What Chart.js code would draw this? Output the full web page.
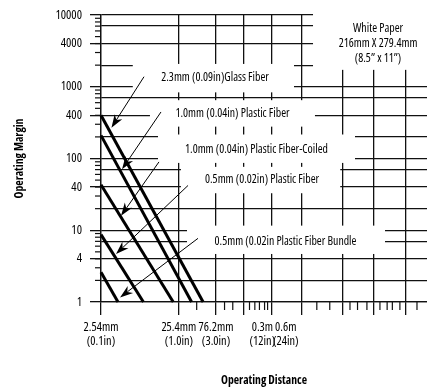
<!DOCTYPE html>
<html>
<head>
<meta charset="utf-8">
<script src="https://cdn.jsdelivr.net/npm/chart.js@4.4.1/dist/chart.umd.min.js"></script>
<style>
  html, body { margin: 0; padding: 0; background: #fff; }
  canvas { display: block; }
</style>
</head>
<body>
<canvas id="chart" width="427" height="391"></canvas>
<script>
// Fiber types, one straight log-log line each
const fiberTypes = [
  '2.3mm (0.09in)Glass Fiber',
  '1.0mm (0.04in) Plastic Fiber',
  '1.0mm (0.04in) Plastic Fiber-Coiled',
  '0.5mm (0.02in) Plastic Fiber',
  '0.5mm (0.02in Plastic Fiber Bundle'
];
// Operating margin at the nearest distance (2.54 mm)
const startDistance = 2.54;
const marginAtStart = [400, 210, 43, 8.7, 2.6];
// Distance (mm) at which the operating margin drops to 1
const distanceAtMarginOne = [52, 37, 21.5, 8.9, 4.2];

// Margin axis
const marginGrid = [1, 2, 4, 7, 10, 20, 40, 70, 100, 200, 400, 700, 1000, 2000, 4000, 7000, 10000];
const marginLabels = [1, 4, 10, 40, 100, 400, 1000, 4000, 10000];

// Distance axis (mm)
const distanceLabelValues = [2.54, 25.4, 76.2, 300, 600];
const distanceLabels = [
  ['2.54mm', '(0.1in)'],
  ['25.4mm', '(1.0in)'],
  ['76.2mm', '(3.0in)'],
  ['0.3m', '(12in)'],
  ['0.6m', '(24in)']
];
const distanceGrid = [25.4, 76.2, 173, 395, 960, 3230, 8100, 20800];
const distanceMinor = [43, 98, 125, 205, 240, 275, 320, 350, 1500, 2200, 4000, 5000, 6600, 9700, 12000, 14000, 17500, 29000];

// Call-out labels: text centre, white backing box [xMin, xMax, yMin, yMax], arrow tail and tip (data units)
const calloutCentres = [[74, 1340], [124, 418], [252, 135], [297, 51], [594, 7.0]];
const calloutBoxes = [
  [6.5, 764, 835, 2080],
  [10.8, 1420, 278, 650],
  [13.7, 4640, 86.8, 216],
  [27, 3000, 32.8, 76.5],
  [32.3, 11270, 4.67, 11.6]
];
const arrowTails = [[9.06, 1380], [14.97, 445], [14.1, 89.6], [33.3, 42.1], [44.7, 7.71]];
const arrowTips = [[3.46, 269], [4.73, 70.8], [4.59, 15.9], [3.96, 4.67], [4.46, 1.16]];

// Target sheet note
const paperNote = ['White Paper', '216mm X 279.4mm', '(8.5\u201d x 11\u201d)'];
const paperNoteCentre = [9162, 4018];
const paperNoteBox = [1341, 39000, 1720, 12000];

const INK = '#111';
const NONE = 'rgba(0,0,0,0)';

// Pick the narrowest installed sans face for the condensed lettering
const probe = document.createElement('canvas').getContext('2d');
function fontString(f, size, bold) {
  return [bold ? 'bold' : '', f.stretch, size + 'px', f.family].filter(Boolean).join(' ');
}
function measure(f, size, bold, text) {
  probe.font = '12px monospace';
  probe.font = fontString(f, size, bold) + ', monospace';
  return probe.measureText(text).width;
}
const faceCandidates = [
  { stretch: '', family: '"Liberation Sans Narrow"' },
  { stretch: '', family: '"DejaVu Sans Condensed"' },
  { stretch: '', family: '"Noto Sans Condensed"' },
  { stretch: 'condensed', family: '"Noto Sans"' },
  { stretch: 'condensed', family: '"DejaVu Sans"' },
  { stretch: 'condensed', family: '"Open Sans"' },
  { stretch: 'condensed', family: '"Liberation Sans"' },
  { stretch: '', family: '"Liberation Sans"' }
];
const probeText = '1.0mm (0.04in) Plastic Fiber-Coiled';
probe.font = '12px monospace';
const monoWidth = probe.measureText(probeText).width;
let face = faceCandidates[faceCandidates.length - 1], faceWidth = Infinity;
faceCandidates.forEach(f => {
  const w = measure(f, 12, false, probeText);
  if (Math.abs(w - monoWidth) > 0.5 && w < faceWidth - 0.5) { face = f; faceWidth = w; }
});
const FAMILY = face.family + ', "Liberation Sans", sans-serif';
const fitSize = (text, width, bold) =>
  Math.max(8.5, Math.min(12.5, 12 * width / measure(face, 12, bold, text)));
const yTickSize = fitSize('10000', 29, false);
const xTickSize = fitSize('25.4mm', 35, false);
const titleSize = fitSize('Operating Distance', 86, true);
const calloutSize = 12;
const squeeze = Math.min(1, 143 / measure(face, calloutSize, false, probeText));
const fontOpt = (size, bold) => ({
  family: FAMILY, size,
  weight: [bold ? 'bold' : '', face.stretch].filter(Boolean).join(' ') || undefined,
  lineHeight: '14px'
});

const datasets = fiberTypes.map((name, i) => ({
  label: name,
  data: [
    { x: startDistance, y: marginAtStart[i] },
    { x: distanceAtMarginOne[i], y: 1 }
  ],
  borderColor: '#000',
  borderWidth: 3,
  pointRadius: 0,
  tension: 0,
  fill: false,
  clip: 4
}));

const xHasLine = v => v === startDistance || distanceGrid.includes(v);

function drawArrow(ctx, x0, y0, x1, y1) {
  const ang = Math.atan2(y1 - y0, x1 - x0);
  const len = 13, half = 4.5;
  const cos = Math.cos(ang), sin = Math.sin(ang);
  ctx.beginPath();
  ctx.moveTo(x0, y0);
  ctx.lineTo(x1 - cos * len * 0.7, y1 - sin * len * 0.7);
  ctx.lineWidth = 1;
  ctx.strokeStyle = '#000';
  ctx.stroke();
  const bx = x1 - cos * len, by = y1 - sin * len;
  const nx = -sin, ny = cos;
  ctx.beginPath();
  ctx.moveTo(x1, y1);
  ctx.lineTo(bx + nx * half, by + ny * half);
  ctx.lineTo(x1 - cos * len * 0.7, y1 - sin * len * 0.7);
  ctx.lineTo(bx - nx * half, by - ny * half);
  ctx.closePath();
  ctx.fillStyle = '#000';
  ctx.fill();
}

function squeezedText(ctx, text, x, y) {
  ctx.save();
  ctx.translate(x, y);
  ctx.scale(squeeze, 1);
  ctx.fillText(text, 0, 0);
  ctx.restore();
}

const calloutPlugin = {
  id: 'callouts',
  beforeDatasetsDraw(chart) {
    const { ctx, scales: { x, y } } = chart;
    ctx.save();
    // short minor ticks on both axes
    ctx.strokeStyle = INK;
    ctx.lineWidth = 1.2;
    const left = x.getPixelForValue(x.min);
    for (let k = 0; k < 4; k++) {
      for (let d = 2; d <= 9; d++) {
        const py = y.getPixelForValue(d * Math.pow(10, k));
        ctx.beginPath();
        ctx.moveTo(left - 6, py);
        ctx.lineTo(left, py);
        ctx.stroke();
      }
    }
    const bottom = y.getPixelForValue(y.min);
    distanceMinor.forEach(v => {
      const px = x.getPixelForValue(v);
      ctx.beginPath();
      ctx.moveTo(px, bottom);
      ctx.lineTo(px, bottom + 8);
      ctx.stroke();
    });
    // white backing boxes for the call-outs
    ctx.fillStyle = '#fff';
    [...calloutBoxes, paperNoteBox].forEach(b => {
      const x0 = x.getPixelForValue(b[0]), x1 = x.getPixelForValue(b[1]);
      const y0 = y.getPixelForValue(b[3]), y1 = y.getPixelForValue(b[2]);
      ctx.fillRect(x0, y0, x1 - x0, y1 - y0);
    });
    ctx.restore();
  },
  afterDatasetsDraw(chart) {
    const { ctx, scales: { x, y } } = chart;
    ctx.save();
    ctx.font = fontString(face, calloutSize, false) + ', "Liberation Sans", sans-serif';
    ctx.textAlign = 'center';
    ctx.textBaseline = 'middle';
    fiberTypes.forEach((name, i) => {
      const c = calloutCentres[i];
      ctx.fillStyle = '#000';
      squeezedText(ctx, name, x.getPixelForValue(c[0]), y.getPixelForValue(c[1]));
      const t = arrowTails[i], p = arrowTips[i];
      drawArrow(ctx,
        x.getPixelForValue(t[0]), y.getPixelForValue(t[1]),
        x.getPixelForValue(p[0]), y.getPixelForValue(p[1]));
    });
    ctx.fillStyle = '#000';
    const cx = x.getPixelForValue(paperNoteCentre[0]);
    const cy = y.getPixelForValue(paperNoteCentre[1]);
    paperNote.forEach((line, i) => squeezedText(ctx, line, cx, cy + (i - 1) * 15));
    ctx.restore();
  }
};

new Chart(document.getElementById('chart'), {
  type: 'line',
  data: { datasets },
  options: {
    responsive: false,
    animation: false,
    devicePixelRatio: 1,
    layout: { padding: { top: 9, right: 0, bottom: 0, left: 0 } },
    plugins: { legend: { display: false }, tooltip: { enabled: false } },
    scales: {
      x: {
        type: 'logarithmic',
        min: 2.54,
        max: 39000,
        afterBuildTicks: s => {
          const vals = [...new Set([...distanceLabelValues, ...distanceGrid])].sort((a, b) => a - b);
          s.ticks = vals.map(v => ({ value: v }));
        },
        afterFit: s => { s.height = 89; },
        ticks: {
          autoSkip: false,
          maxRotation: 0,
          minRotation: 0,
          padding: 5,
          color: '#000',
          font: fontOpt(xTickSize, false),
          callback: v => {
            const i = distanceLabelValues.indexOf(v);
            return i >= 0 ? distanceLabels[i] : '';
          }
        },
        grid: {
          color: c => (c.tick && xHasLine(c.tick.value)) ? INK : NONE,
          tickColor: c => (c.tick && xHasLine(c.tick.value)) ? INK : NONE,
          lineWidth: 1.3,
          tickLength: 13
        },
        border: { display: true, color: INK, width: 1.3 },
        title: {
          display: true,
          text: 'Operating Distance',
          color: '#000',
          font: fontOpt(titleSize, true),
          padding: { top: 0, bottom: 3 }
        }
      },
      y: {
        type: 'logarithmic',
        min: 1,
        max: 10000,
        afterBuildTicks: s => { s.ticks = marginGrid.map(v => ({ value: v })); },
        afterFit: s => { s.width = 101; },
        ticks: {
          autoSkip: false,
          padding: 8,
          color: '#000',
          font: fontOpt(yTickSize, false),
          callback: v => marginLabels.includes(v) ? String(v) : ''
        },
        grid: {
          color: INK,
          tickColor: c => (c.tick && marginLabels.includes(c.tick.value)) ? INK : NONE,
          lineWidth: 1.3,
          tickLength: 11
        },
        border: { display: true, color: INK, width: 1.3 },
        title: {
          display: true,
          text: 'Operating Margin',
          color: '#000',
          font: fontOpt(titleSize, true),
          padding: { top: 13, bottom: 0 }
        }
      }
    }
  },
  plugins: [calloutPlugin]
});
</script>
</body>
</html>
